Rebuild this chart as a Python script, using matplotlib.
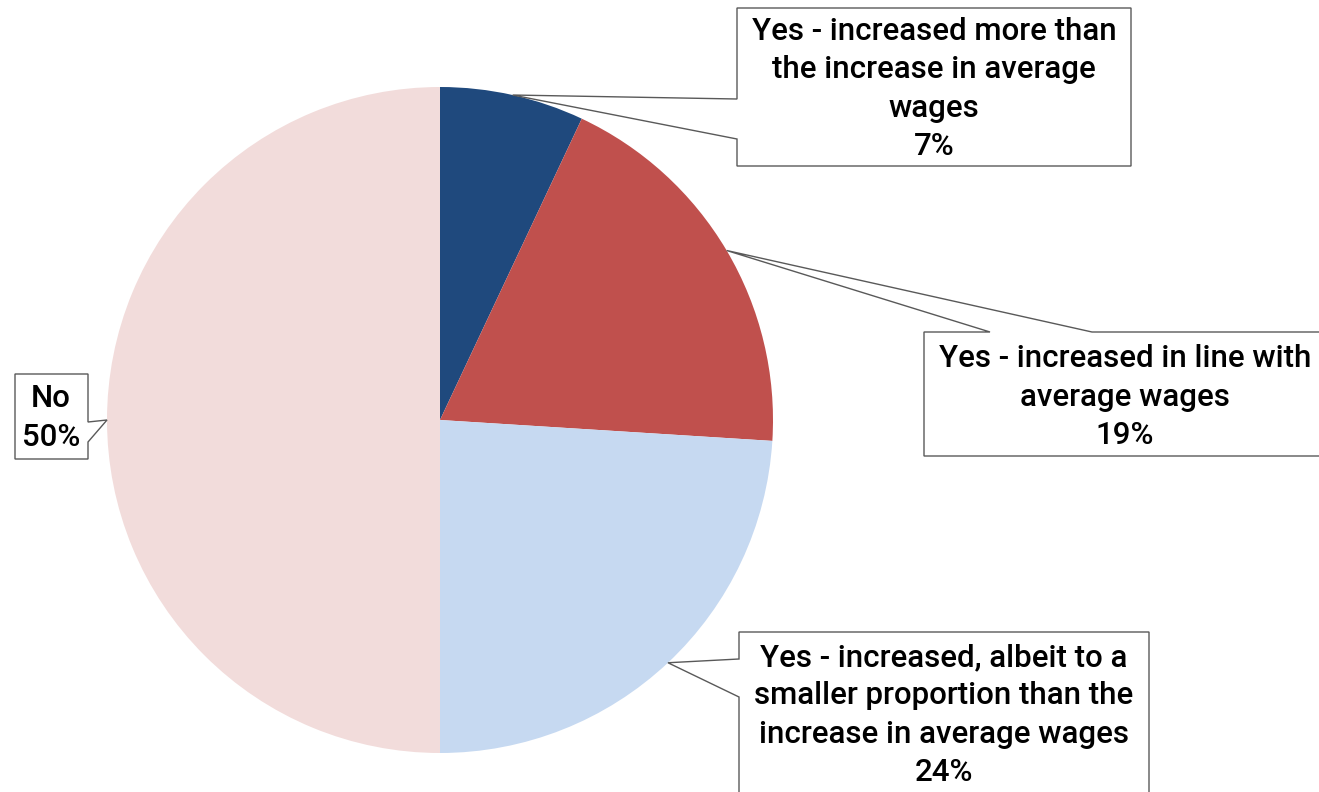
import numpy as np
import matplotlib
matplotlib.use("Agg")
import matplotlib.pyplot as plt
from matplotlib.patches import Polygon

labels = [
    "Yes - increased more than\nthe increase in average\nwages",
    "Yes - increased in line with\naverage wages",
    "Yes - increased, albeit to a\nsmaller proportion than the\nincrease in average wages",
    "No",
]
values = [7, 19, 24, 50]
colors = ["#1F497D", "#C0504D", "#C6D9F1", "#F2DCDB"]

W, H = 1319, 792
cx, cy, R = 440, H - 420, 333

plt.rcParams['font.family'] = ['Roboto', 'DejaVu Sans']

fig = plt.figure(figsize=(W / 100, H / 100), dpi=100)
ax = fig.add_axes([0, 0, 1, 1])
ax.pie(values, colors=colors, startangle=90, counterclock=False,
       center=(cx, cy), radius=R, wedgeprops=dict(linewidth=0))
ax.set_xlim(0, W)
ax.set_ylim(0, H)
ax.set_aspect('equal')
ax.axis('off')


def anchor(i):
    # point on the rim at the middle of slice i (clockwise from 12 o'clock)
    cum = np.cumsum([0] + values)
    theta = np.deg2rad((cum[i] + cum[i + 1]) / 2 * 3.6)
    return (cx + R * np.sin(theta), cy + R * np.cos(theta))


def flip(pts):
    return [(x, H - y) for x, y in pts]


# callout boxes: (box outline with the pointer spliced in, text centre)
callouts = [
    (lambda a: flip([(737, 8), (1131, 8), (1131, 166), (737, 166), (737, 139)])
     + [a] + flip([(737, 99)]), (934, 89)),
    (lambda a: flip([(924, 332), (990, 332)]) + [a]
     + flip([(1092, 332), (1330, 332), (1330, 456), (924, 456)]), (1125, 397)),
    (lambda a: flip([(739, 632), (1149, 632), (1149, 810), (739, 810), (739, 697)])
     + [a] + flip([(739, 659)]), (944, 715)),
    (lambda a: flip([(15, 374), (88, 374), (88, 422)]) + [a]
     + flip([(88, 442), (88, 459), (15, 459)]), (51, 418)),
]

for i, (shape, (tx, ty)) in enumerate(callouts):
    poly = Polygon(shape(anchor(i)), closed=True, facecolor='white',
                   edgecolor='#595959', linewidth=1.0, zorder=3)
    ax.add_patch(poly)
    ax.text(tx, H - ty, f"{labels[i]}\n{values[i]}%", ha='center', va='center',
            fontsize=22.5, fontweight='medium', color='black',
            linespacing=1.4, zorder=4)

fig.savefig("out.png", dpi=100)
